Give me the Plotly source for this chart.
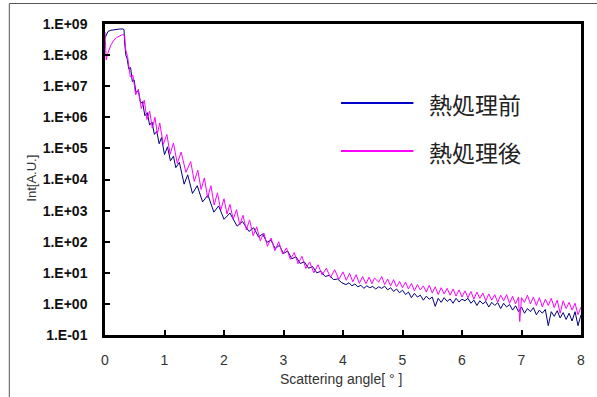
import numpy as np
import plotly.graph_objects as go

series_names = ["熱処理前", "熱処理後"]
series_colors = ["#000080", "#FF00FF"]

# Scattering angle [deg] and log10(intensity) (log axis)
before_x = [
    0.00, 0.02, 0.05, 0.10, 0.15, 0.20, 0.25, 0.30, 0.32, 0.33, 0.35, 0.37, 0.40, 0.43, 0.46, 0.49,
    0.52, 0.56, 0.60, 0.63, 0.67, 0.71, 0.75, 0.79, 0.83, 0.87, 0.91, 0.95, 1.00, 1.05, 1.10, 1.15,
    1.19, 1.25, 1.33, 1.39, 1.47, 1.55, 1.64, 1.73, 1.83, 1.91, 2.00, 2.10, 2.22, 2.31, 2.42, 2.50,
    2.58, 2.65, 2.72, 2.79, 2.86, 2.93, 3.00, 3.07, 3.14, 3.21, 3.28, 3.35, 3.42, 3.49, 3.56, 3.63,
    3.70, 3.77, 3.84, 3.91, 3.98,
    4.05, 4.10, 4.15, 4.20, 4.25, 4.30, 4.35, 4.40, 4.45, 4.50, 4.55, 4.60, 4.65, 4.70, 4.75, 4.80,
    4.85, 4.90, 4.95, 5.00, 5.05, 5.10, 5.15, 5.20, 5.25, 5.30, 5.35, 5.40, 5.45, 5.50, 5.55, 5.60,
    5.65, 5.70, 5.75, 5.80, 5.85, 5.90, 5.95, 6.00, 6.05, 6.10, 6.15, 6.20, 6.25, 6.30, 6.35, 6.40,
    6.45, 6.50, 6.55, 6.60, 6.65, 6.70, 6.75, 6.80, 6.85, 6.90, 6.95, 7.00, 7.05, 7.10, 7.15, 7.20,
    7.25, 7.30, 7.35, 7.40, 7.45, 7.50, 7.55, 7.60, 7.65, 7.70, 7.75, 7.80, 7.85, 7.90, 7.95, 8.00,
]
before_log10 = [
    8.55, 8.66, 8.76, 8.80, 8.82, 8.83, 8.84, 8.84, 8.82, 8.40, 8.00, 7.90, 7.55, 7.60, 7.15, 7.20,
    6.80, 6.85, 6.45, 6.50, 6.05, 6.15, 5.75, 5.85, 5.45, 5.55, 5.15, 5.35, 4.80, 5.05, 4.60, 4.75,
    4.38, 4.55, 3.85, 4.15, 3.55, 3.80, 3.28, 3.50, 2.95, 3.15, 2.72, 2.92, 2.50, 2.65, 2.33, 2.45,
    2.15, 2.25, 1.98, 2.05, 1.78, 1.88, 1.62, 1.70, 1.45, 1.52, 1.30, 1.35, 1.15, 1.20, 1.00, 1.05,
    0.88, 0.92, 0.78, 0.80, 0.68,
    0.62, 0.68, 0.58, 0.64, 0.55, 0.60, 0.50, 0.58, 0.52, 0.56, 0.48, 0.55, 0.50, 0.57, 0.45, 0.52,
    0.40, 0.48, 0.36, 0.44, 0.30, 0.38, 0.20, 0.34, 0.22, 0.28, 0.12, 0.25, 0.15, 0.22, -0.08, 0.18,
    0.05, 0.20, 0.08, 0.16, 0.02, 0.18, 0.06, 0.15, 0.10, 0.18, 0.02, 0.12, -0.05, 0.10, 0.00, 0.08,
    -0.10, 0.05, -0.05, 0.04, -0.15, 0.02, -0.10, -0.02, -0.20, -0.06, -0.25, -0.10, -0.30, -0.15, -0.25, -0.12,
    -0.35, -0.20, -0.30, -0.18, -0.70, -0.25, -0.40, -0.22, -0.45, -0.28, -0.50, -0.30, -0.55, -0.25, -0.70, -0.35,
]

after_x = [
    0.00, 0.01, 0.02, 0.04, 0.07, 0.10, 0.15, 0.20, 0.25, 0.30, 0.33, 0.35,
    0.38, 0.425, 0.47, 0.515, 0.56, 0.61, 0.66, 0.705, 0.75, 0.795, 0.84, 0.88, 0.92, 0.98,
    1.04, 1.095, 1.15, 1.215, 1.28, 1.36, 1.44, 1.50, 1.56, 1.615, 1.67, 1.725, 1.78, 1.835,
    1.89, 1.945, 2.00, 2.05, 2.10, 2.155, 2.21, 2.265, 2.32, 2.375, 2.43, 2.49, 2.55, 2.61,
    2.67, 2.73, 2.79, 2.855, 2.92, 2.985, 3.05, 3.115, 3.18, 3.245, 3.31, 3.375, 3.44, 3.51,
    3.58, 3.65, 3.72, 3.79, 3.86, 3.93, 4.00, 4.055, 4.11, 4.165, 4.22, 4.275, 4.33, 4.385,
    4.44, 4.485, 4.53,
    4.60, 4.65, 4.70, 4.75, 4.80, 4.85, 4.90, 4.95, 5.00, 5.05, 5.10, 5.15, 5.20, 5.25, 5.30, 5.35,
    5.40, 5.45, 5.50, 5.55, 5.60, 5.65, 5.70, 5.75, 5.80, 5.85, 5.90, 5.95, 6.00, 6.05, 6.10, 6.15,
    6.20, 6.25, 6.30, 6.35, 6.40, 6.45, 6.50, 6.55, 6.60, 6.65, 6.70, 6.75, 6.80, 6.85, 6.90, 6.95,
    6.97, 7.00, 7.05, 7.10, 7.15, 7.20, 7.25, 7.30, 7.35, 7.40, 7.45, 7.50, 7.55, 7.60, 7.65, 7.70,
    7.75, 7.80, 7.85, 7.90, 7.95, 8.00,
]
after_log10 = [
    8.74, 8.30, 7.85, 8.02, 8.20, 8.33, 8.48, 8.57, 8.62, 8.66, 8.62, 8.15,
    7.95, 7.30, 7.35, 6.72, 6.90, 6.28, 6.55, 5.93, 6.20, 5.65, 6.00, 5.46, 5.82, 5.13,
    5.45, 4.81, 5.17, 4.52, 4.88, 4.23, 4.58, 3.94, 4.30, 3.68, 4.05, 3.42, 3.80, 3.18,
    3.57, 3.02, 3.38, 2.89, 3.20, 2.72, 3.03, 2.54, 2.85, 2.38, 2.70, 2.19, 2.48, 2.03,
    2.28, 1.85, 2.12, 1.71, 2.00, 1.60, 1.80, 1.43, 1.65, 1.29, 1.53, 1.14, 1.35, 1.00,
    1.26, 0.93, 1.15, 0.85, 1.10, 0.79, 1.03, 0.76, 0.98, 0.71, 0.94, 0.66, 0.88, 0.65,
    0.86, 0.65, 0.83,
    0.70, 0.88, 0.62, 0.80, 0.58, 0.78, 0.55, 0.72, 0.52, 0.70, 0.48, 0.66, 0.42, 0.62, 0.45, 0.58,
    0.38, 0.60, 0.35, 0.55, 0.30, 0.52, 0.32, 0.50, 0.28, 0.48, 0.25, 0.45, 0.22, 0.42, 0.20, 0.40,
    0.15, 0.38, 0.18, 0.35, 0.10, 0.32, 0.12, 0.30, 0.05, 0.28, 0.10, 0.30, 0.02, 0.25, 0.00, 0.22,
    -0.57, 0.20, 0.05, 0.28, 0.00, 0.22, -0.05, 0.20, -0.10, 0.15, -0.05, 0.18, -0.12, 0.12, -0.30, 0.10,
    -0.15, 0.05, -0.20, 0.02, -0.35, -0.10,
]

x_ticks = [0, 1, 2, 3, 4, 5, 6, 7, 8]
y_tick_exp = [-1, 0, 1, 2, 3, 4, 5, 6, 7, 8, 9]
y_tick_text = ["1.E-01", "1.E+00", "1.E+01", "1.E+02", "1.E+03", "1.E+04",
               "1.E+05", "1.E+06", "1.E+07", "1.E+08", "1.E+09"]

fig = go.Figure()
fig.add_trace(go.Scatter(x=before_x, y=np.power(10.0, before_log10), mode="lines",
                         name=series_names[0], line=dict(color=series_colors[0], width=1),
                         showlegend=False))
fig.add_trace(go.Scatter(x=after_x, y=np.power(10.0, after_log10), mode="lines",
                         name=series_names[1], line=dict(color=series_colors[1], width=1),
                         showlegend=False))

W, H = 597, 397
L, R, T, B = 105, 12, 24, 62
pw, ph = W - L - R, H - T - B

def px(xp):
    return (xp - L) / pw

def py(yp):
    return (H - B - yp) / ph

shapes = []
# outer frame (left and top edges visible)
shapes.append(dict(type="rect", xref="paper", yref="paper",
                   x0=px(8.5), x1=px(620), y0=py(420), y1=py(3.5),
                   line=dict(color="#555555", width=1), fillcolor="rgba(0,0,0,0)", layer="below"))
# manual legend
legend_y = [103, 151]
annotations = []
for i, name in enumerate(series_names):
    shapes.append(dict(type="line", xref="paper", yref="paper",
                       x0=px(343), x1=px(416), y0=py(legend_y[i]), y1=py(legend_y[i]),
                       line=dict(color=series_colors[i] if i else "#0000CC", width=2)))
    annotations.append(dict(text=name, xref="paper", yref="paper", x=px(430), y=py(legend_y[i] + 1),
                            xanchor="left", yanchor="middle", showarrow=False,
                            font=dict(family="Noto Sans CJK JP", size=23, color="#222222")))

annotations.append(dict(text="Int[A.U.]", xref="paper", yref="paper", x=px(30), y=py(178),
                        xanchor="center", yanchor="middle", textangle=-90, showarrow=False,
                        font=dict(family="Liberation Sans, Arial", size=13, color="#333333")))
annotations.append(dict(text="Scattering angle[ ° ]", xref="paper", yref="paper", x=px(343), y=py(379),
                        xanchor="center", yanchor="middle", showarrow=False,
                        font=dict(family="Liberation Sans, Arial", size=14, color="#333333")))

fig.update_layout(
    width=W, height=H,
    margin=dict(l=L, r=R, t=T, b=B, pad=0),
    paper_bgcolor="white", plot_bgcolor="white",
    shapes=shapes, annotations=annotations,
    showlegend=False,
)
fig.update_xaxes(range=[0, 8], tickvals=x_ticks, ticktext=[str(v) for v in x_ticks],
                 showgrid=False, zeroline=False, showline=True, linecolor="black", linewidth=2.5,
                 mirror=True, ticks="inside", ticklen=5, tickwidth=2, tickcolor="black",
                 ticklabelstandoff=10,
                 tickfont=dict(family="Liberation Sans, Arial", size=14, color="#333333"))
fig.update_yaxes(type="log", range=[-1, 9], tickvals=[10.0 ** e for e in y_tick_exp], ticktext=y_tick_text,
                 showgrid=False, zeroline=False, showline=True, linecolor="black", linewidth=2.5,
                 mirror=True, ticks="inside", ticklen=5, tickwidth=2, tickcolor="black",
                 ticklabelstandoff=12,
                 tickfont=dict(family="Liberation Sans, Arial", size=14, color="#111111", weight="bold"))

fig.write_html("out.html", config={"displayModeBar": False},
               post_script="document.body.style.margin='0';document.body.style.overflow='hidden';")
